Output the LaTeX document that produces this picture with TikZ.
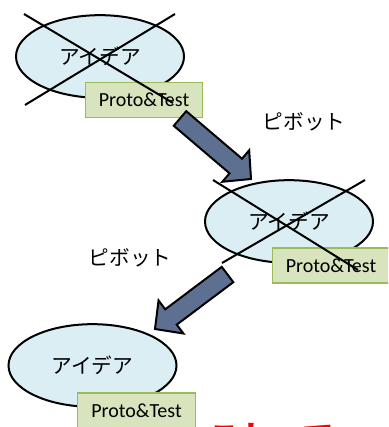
\documentclass[tikz,border=0pt]{standalone}
\usepackage{fontspec}
\setmainfont{Carlito}
\newfontfamily\jafont{Noto Sans CJK JP}
\usetikzlibrary{calc,shapes.geometric}

\definecolor{ideablue}{RGB}{218,238,243}
\definecolor{protogreen}{RGB}{215,228,189}
\definecolor{protoedge}{RGB}{155,187,89}
\definecolor{pivotfill}{RGB}{93,112,145}

\tikzset{
    idea/.style={ellipse, draw, line width=1.5pt, fill=ideablue, inner sep=0pt,
        minimum width=126pt, minimum height=62pt, font=\jafont\fontsize{15.5}{18}\selectfont},
    proto/.style={rectangle, draw=protoedge, line width=0.8pt, fill=protogreen, inner sep=0pt,
        minimum width=88pt, minimum height=26.25pt, font=\fontsize{15}{18}\selectfont},
    strike/.style={line width=1.5pt},
    pivot/.style={draw, line width=1.5pt, fill=pivotfill},
    pivotlabel/.style={font=\jafont\fontsize{15.5}{18}\selectfont}
}

% fat arrow from #1 (tail) to #2 (tip)
\newcommand{\pivotarrow}[2]{%
    \coordinate (neck) at ($(#2)!15pt!(#1)$);
    \draw[pivot] ($(#1)!7.2pt!90:(#2)$) -- ($(neck)!7.2pt!90:(#2)$) -- ($(neck)!15.5pt!90:(#2)$) -- (#2)
        -- ($(neck)!15.5pt!-90:(#2)$) -- ($(neck)!7.2pt!-90:(#2)$) -- ($(#1)!7.2pt!-90:(#2)$) -- cycle;}

\begin{document}
\begin{tikzpicture}[x=0.75pt, y=-0.75pt]
    \clip (0, 0) rectangle (388, 427);

    % first idea
    \node[idea] (idea1) at (100, 56.5) {アイデア};
    \node[proto] (proto1) at (144, 100) {Proto\&Test};
    \draw[strike] (24, 14) -- (173, 103);
    \draw[strike] (175, 14) -- (25, 105);

    % second idea
    \node[idea] (idea2) at (289, 221.5) {アイデア};
    \node[proto] (proto2) at (331, 265.5) {Proto\&Test};
    \draw[strike] (213, 180) -- (358, 270);
    \draw[strike] (365, 180) -- (222, 263);

    % third idea
    \node[idea] (idea3) at (92.5, 365.5) {アイデア};
    \node[proto] (proto3) at (136.5, 410.5) {Proto\&Test};

    \node[pivotlabel] (pivot1) at (304, 122) {ピボット};
    \node[pivotlabel] (pivot2) at (130, 258) {ピボット};

    \coordinate (tail1) at (180, 118.5);
    \coordinate (tip1) at (251, 179);
    \pivotarrow{tail1}{tip1}
    \coordinate (tail2) at (227.5, 274.5);
    \coordinate (tip2) at (155, 329);
    \pivotarrow{tail2}{tip2}

    \node[anchor=base west, text=red, font=\jafont\bfseries\fontsize{24}{24}\selectfont, inner sep=0pt] (kore) at (208, 449.5) {これって};
\end{tikzpicture}
\end{document}
